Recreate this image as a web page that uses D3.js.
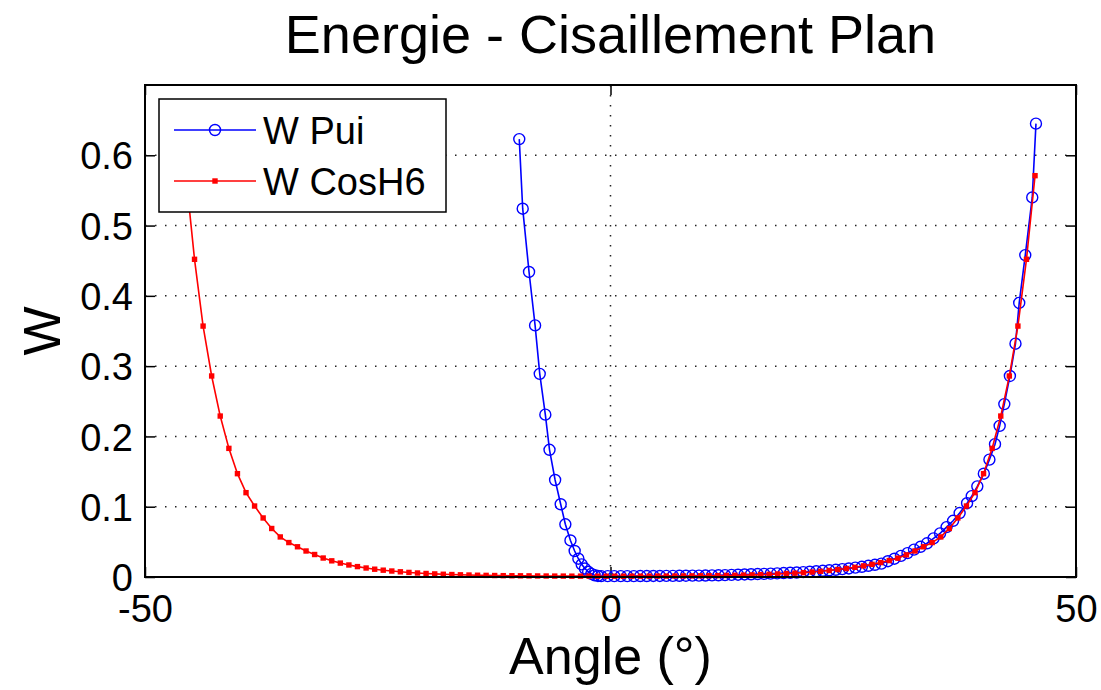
<!DOCTYPE html>
<html lang="fr">
<head>
<meta charset="UTF-8">
<title>Energie - Cisaillement Plan</title>
<script src="https://d3js.org/d3.v7.min.js"></script>
<style>
  body { margin: 0; background: #fff; }
  svg text { font-family: "Liberation Sans", Arial, Helvetica, sans-serif; fill: #000; }
  .grid line { stroke: #222; stroke-width: 1.5; stroke-dasharray: 1.5,8.5; }
  .box { fill: none; stroke: #000; stroke-width: 2; }
  .tick-mark { stroke: #000; stroke-width: 1.5; }
</style>
</head>
<body>
<div id="chart"></div>
<script>
// values
const xTicks = [-50, 0, 50];
const yTicks = [0, 0.1, 0.2, 0.3, 0.4, 0.5, 0.6];
const seriesNames = ["W Pui", "W CosH6"];

const puiAngle = [-9.8, -9.43, -8.75, -8.1, -7.6, -7.0, -6.55, -5.95, -5.35, -4.85, -4.3, -3.85, -3.45, -3.1, -2.75, -2.4, -2.05, -1.7, -1.35,
  -1.0, -0.3, 0.4, 1.1, 1.8, 2.5, 3.2, 3.9, 4.6, 5.3, 6.0, 6.7, 7.4, 8.1, 8.8, 9.5, 10.2, 10.9, 11.6, 12.3, 13.0, 13.7, 14.4, 15.1, 15.8, 16.5, 17.2, 17.9, 18.6, 19.3,
  20.0, 20.7, 21.4, 22.1, 22.8, 23.5, 24.2, 24.9, 25.6, 26.3, 27.0, 27.7, 28.4, 29.1, 29.8, 30.5, 31.2, 31.9, 32.6, 33.3, 34.0, 34.7, 35.4, 36.1, 36.8, 37.5, 38.3, 38.8, 39.4, 40.1, 40.7, 41.3, 41.8, 42.3, 42.9, 43.5, 43.9, 44.55, 45.3, 45.7];
const puiW = [0.623, 0.524, 0.434, 0.358, 0.289, 0.231, 0.181, 0.138, 0.1035, 0.075, 0.052, 0.037, 0.026, 0.018, 0.012, 0.0075, 0.0045, 0.0025, 0.0015,
  0.0012, 0.0012, 0.0012, 0.0013, 0.0013, 0.0013, 0.0014, 0.0014, 0.0015, 0.0015, 0.0016, 0.0016, 0.0017, 0.0018, 0.0019, 0.0020, 0.0021, 0.0023, 0.0025, 0.0027, 0.0030, 0.0033, 0.0036, 0.0039, 0.0042, 0.0045, 0.0048, 0.0052, 0.0056, 0.0060,
  0.0064, 0.0069, 0.0075, 0.0081, 0.0088, 0.0095, 0.0103, 0.0112, 0.0122, 0.0133, 0.0145, 0.0159, 0.0174, 0.0191, 0.0225, 0.026, 0.030, 0.034, 0.039, 0.043, 0.048, 0.055, 0.062, 0.071, 0.080, 0.091, 0.105, 0.115, 0.129, 0.147, 0.167, 0.189, 0.215, 0.246, 0.286, 0.332, 0.390, 0.458, 0.540, 0.645];

const coshAngle = [-45.6, -44.68, -43.76, -42.84, -41.92, -40.99, -40.07, -39.15, -38.23, -37.31, -36.39, -35.47, -34.55, -33.62, -32.7, -31.78, -30.86, -29.94, -29.02, -28.1,
  -27.18, -26.25, -25.33, -24.41, -23.49, -22.57, -21.65, -20.73, -19.81, -18.88, -17.96, -17.04, -16.12, -15.2, -14.28, -13.36, -12.44, -11.52, -10.59, -9.67,
  -8.75, -7.83, -6.91, -5.99, -5.07, -4.15, -3.22, -2.3, -1.38, -0.46,
  0.46, 1.38, 2.3, 3.22, 4.15, 5.07, 5.99, 6.91, 7.83, 8.75, 9.67, 10.59, 11.52, 12.44, 13.36, 14.28, 15.2, 16.12, 17.04, 17.96,
  18.88, 19.81, 20.73, 21.65, 22.57, 23.49, 24.41, 25.33, 26.25, 27.18, 28.1, 29.02, 29.94, 30.86, 31.78, 32.7, 33.62, 34.55, 35.47, 36.39,
  37.31, 38.23, 39.15, 40.07, 40.99, 41.92, 42.84, 43.76, 44.68, 45.6];
const coshW = [0.571, 0.452, 0.357, 0.286, 0.229, 0.183, 0.147, 0.120, 0.101, 0.084, 0.069, 0.057, 0.049, 0.043, 0.037, 0.032, 0.027, 0.023, 0.0198, 0.0171,
  0.0148, 0.0128, 0.0111, 0.0097, 0.0085, 0.0074, 0.0065, 0.0057, 0.0050, 0.0044, 0.0039, 0.0035, 0.0031, 0.0028, 0.0025, 0.0023, 0.0021, 0.0019, 0.0018, 0.0017,
  0.0016, 0.0015, 0.0014, 0.0013, 0.0013, 0.0012, 0.0012, 0.0012, 0.0011, 0.0011,
  0.0011, 0.0011, 0.0012, 0.0012, 0.0012, 0.0013, 0.0013, 0.0014, 0.0015, 0.0016, 0.0017, 0.0018, 0.0020, 0.0022, 0.0024, 0.0027, 0.0030, 0.0034, 0.0038, 0.0043,
  0.0049, 0.0055, 0.0062, 0.0071, 0.0081, 0.0093, 0.0106, 0.0121, 0.0138, 0.0158, 0.0180, 0.0205, 0.0234, 0.0268, 0.0315, 0.0370, 0.0430, 0.0490, 0.057, 0.069,
  0.084, 0.101, 0.120, 0.147, 0.183, 0.229, 0.286, 0.357, 0.452, 0.571];

const width = 1101, height = 690;
const plot = { left: 145, right: 1076, top: 85, bottom: 577 };

const svg = d3.select("#chart").append("svg")
  .attr("width", width)
  .attr("height", height);

const x = d3.scaleLinear().domain([-50, 50]).range([plot.left, plot.right]);
const y = d3.scaleLinear().domain([0, 0.7]).range([plot.bottom, plot.top]);

// dotted grid
const grid = svg.append("g").attr("class", "grid");
grid.selectAll("line.gy")
  .data(yTicks.filter(d => d > 0))
  .enter().append("line")
  .attr("x1", plot.left).attr("x2", plot.right)
  .attr("y1", d => y(d)).attr("y2", d => y(d));
grid.selectAll("line.gx")
  .data(xTicks.filter(d => d > -50 && d < 50))
  .enter().append("line")
  .attr("x1", d => x(d)).attr("x2", d => x(d))
  .attr("y1", plot.top).attr("y2", plot.bottom);

// axes (MATLAB style: ticks inside, mirrored on all sides)
const axisLeft = d3.axisLeft(y).tickValues(yTicks).tickSize(-10).tickPadding(12).tickFormat(d => String(d));
const axisRight = d3.axisRight(y).tickValues(yTicks).tickSize(-10).tickFormat("");
const axisBottom = d3.axisBottom(x).tickValues(xTicks).tickSize(-10).tickPadding(18).tickFormat(d => String(d));
const axisTop = d3.axisTop(x).tickValues(xTicks).tickSize(-10).tickFormat("");

function styleAxis(g) {
  g.select(".domain").remove();
  g.selectAll(".tick line").attr("class", "tick-mark");
  g.selectAll(".tick text").style("font-size", "38px");
}
svg.append("g").attr("transform", `translate(${plot.left},0)`).call(axisLeft).call(styleAxis)
  .selectAll(".tick text").attr("dy", "0.36em");
svg.append("g").attr("transform", `translate(${plot.right},0)`).call(axisRight).call(styleAxis);
svg.append("g").attr("transform", `translate(0,${plot.bottom})`).call(axisBottom).call(styleAxis)
  .selectAll(".tick text").attr("dy", "0.71em");
svg.append("g").attr("transform", `translate(0,${plot.top})`).call(axisTop).call(styleAxis);

// series
const line = d3.line().x(d => x(d[0])).y(d => y(d[1]));
const puiData = puiAngle.map((a, i) => [a, puiW[i]]);
const coshData = coshAngle.map((a, i) => [a, coshW[i]]);

const series = svg.append("g");
series.append("path").datum(puiData)
  .attr("d", line).attr("fill", "none").attr("stroke", "#0000ff").attr("stroke-width", 1.6);
series.selectAll("circle.pui").data(puiData)
  .enter().append("circle")
  .attr("cx", d => x(d[0])).attr("cy", d => y(d[1])).attr("r", 5.5)
  .attr("fill", "none").attr("stroke", "#0000ff").attr("stroke-width", 1.4);

series.append("path").datum(coshData)
  .attr("d", line).attr("fill", "none").attr("stroke", "#ff0000").attr("stroke-width", 1.6);
series.selectAll("rect.cosh").data(coshData)
  .enter().append("rect")
  .attr("x", d => x(d[0]) - 2.7).attr("y", d => y(d[1]) - 2.7)
  .attr("width", 5.4).attr("height", 5.4)
  .attr("fill", "#ff0000");

// plot box
svg.append("rect").attr("class", "box")
  .attr("x", plot.left).attr("y", plot.top)
  .attr("width", plot.right - plot.left).attr("height", plot.bottom - plot.top);

// legend
const legend = svg.append("g").attr("transform", "translate(159,99)");
legend.append("rect")
  .attr("width", 287).attr("height", 113)
  .attr("fill", "#fff").attr("stroke", "#000").attr("stroke-width", 1.5);
const colors = ["#0000ff", "#ff0000"];
const rows = legend.selectAll("g.row").data(seriesNames)
  .enter().append("g")
  .attr("transform", (d, i) => `translate(0,${31 + i * 51})`);
rows.append("line")
  .attr("x1", 15).attr("x2", 97).attr("y1", 0).attr("y2", 0)
  .attr("stroke", (d, i) => colors[i]).attr("stroke-width", 1.6);
rows.filter((d, i) => i === 0).append("circle")
  .attr("cx", 56).attr("cy", 0).attr("r", 5.5)
  .attr("fill", "none").attr("stroke", colors[0]).attr("stroke-width", 1.4);
rows.filter((d, i) => i === 1).append("rect")
  .attr("x", 53.3).attr("y", -2.7).attr("width", 5.4).attr("height", 5.4)
  .attr("fill", colors[1]);
rows.append("text")
  .attr("x", 104).attr("dy", "0.36em")
  .style("font-size", "38px")
  .text(d => d);

// title and axis labels
svg.append("text")
  .attr("x", (plot.left + plot.right) / 2).attr("y", 53)
  .attr("text-anchor", "middle").style("font-size", "54px")
  .text("Energie - Cisaillement Plan");
svg.append("text")
  .attr("x", (plot.left + plot.right) / 2).attr("y", 674)
  .attr("text-anchor", "middle").style("font-size", "52px")
  .text("Angle (°)");
svg.append("text")
  .attr("transform", `translate(60,${(plot.top + plot.bottom) / 2}) rotate(-90)`)
  .attr("text-anchor", "middle").style("font-size", "52px")
  .text("W");
</script>
</body>
</html>
